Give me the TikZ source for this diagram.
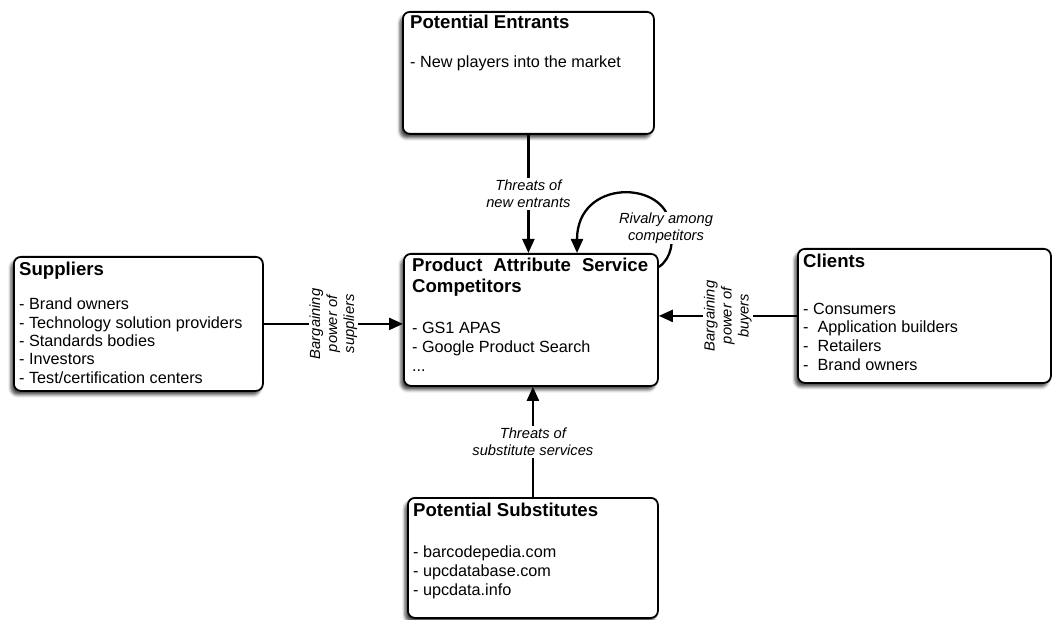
\documentclass[tikz,border=0pt]{standalone}
\usepackage{fontspec}
\setmainfont{Liberation Sans}
\usetikzlibrary{arrows.meta,shadows.blur,calc}

\tikzset{
  forcebox/.style={draw, line width=1.8pt, rounded corners=7pt, fill=white,
    blur shadow={shadow xshift=-3pt, shadow yshift=-4pt, shadow blur radius=3pt, shadow opacity=70},
    inner sep=0pt, anchor=north west},
  % multi-line nodes: the base anchor sits on the last line
  boxtitle/.style={anchor=base west, inner sep=0pt, align=left,
    font=\fontsize{18.6}{21}\selectfont\bfseries},
  boxitems/.style={anchor=base west, inner sep=0pt, align=left,
    font=\fontsize{16.2}{18.6}\selectfont},
  forcelabel/.style={fill=white, inner sep=2pt, align=center,
    font=\fontsize{14.7}{17}\selectfont\itshape},
  force/.style={line width=2.3pt, -{Triangle[length=14pt,width=12pt]}},
}

\begin{document}
\begin{tikzpicture}[x=1pt, y=-1pt]
\useasboundingbox (0,0) rectangle (1052,620);

% the five boxes
\node[forcebox, minimum width=251pt, minimum height=122pt] (entr) at (402,11) {};
\node[forcebox, minimum width=254pt, minimum height=132pt] (ctr) at (403,253) {};
\node[forcebox, minimum width=249pt, minimum height=134pt] (sup) at (13,256) {};
\node[forcebox, minimum width=253pt, minimum height=134pt] (cli) at (797,248) {};
\node[forcebox, minimum width=250pt, minimum height=120pt] (sub) at (407,497) {};

% box texts
\node[boxtitle] (entrT) at (410,29) {Potential Entrants};
\node[boxitems] (entrI) at (410,68) {- New players into the market};

% with a text width the base anchor sits on the first line
\node[boxtitle, text width=236pt, align=justify] (ctrT) at (412,272) {Product Attribute Service Competitors};
\node[boxitems] (ctrI) at (412,371) {- GS1 APAS\\- Google Product Search\\...};

\node[boxtitle] (supT) at (19,276) {Suppliers};
\node[boxitems, font=\fontsize{16.2}{18.3}\selectfont] (supI) at (19,383) {- Brand owners\\- Technology solution providers\\- Standards bodies\\- Investors\\- Test/certification centers};

\node[boxtitle] (cliT) at (803,268) {Clients};
\node[boxitems] (cliI) at (803,370) {- Consumers\\-\ \ Application builders\\-\ \ Retailers\\-\ \ Brand owners};

\node[boxtitle] (subT) at (413,516) {Potential Substitutes};
\node[boxitems] (subI) at (413,595) {- barcodepedia.com\\- upcdatabase.com\\- upcdata.info};

% the forces acting on the competitors
\draw[force] (entr.south) -- (ctr.north -| entr.south)
  node[forcelabel, midway] (lEntr) {Threats of\\new entrants};
\draw[force] (sub.north) -- (ctr.south -| sub.north)
  node[forcelabel, midway] (lSub) {Threats of\\substitute services};
\draw[force] (sup.east) -- (ctr.west |- sup.east)
  node[forcelabel, midway, rotate=90, inner sep=1pt] (lSup) {Bargaining\\power of\\suppliers};
\draw[force] (cli.west) -- (ctr.east |- cli.west)
  node[forcelabel, midway, rotate=90, inner sep=1pt] (lCli) {Bargaining\\power of\\buyers};

% rivalry loop from the right edge back onto the top edge
\coordinate (rs) at ($(ctr.north east)+(0,14)$);
\coordinate (rm) at (670,225);
\coordinate (re) at ($(ctr.north west)+(174,0)$);
\draw[force] (rs) .. controls (672,258) and (674,240) .. (rm)
  .. controls (666,180) and (577,178) .. (re);
\node[forcelabel, inner sep=1pt] (lRiv) at (666,228) {Rivalry among\\competitors};
\end{tikzpicture}
\end{document}
